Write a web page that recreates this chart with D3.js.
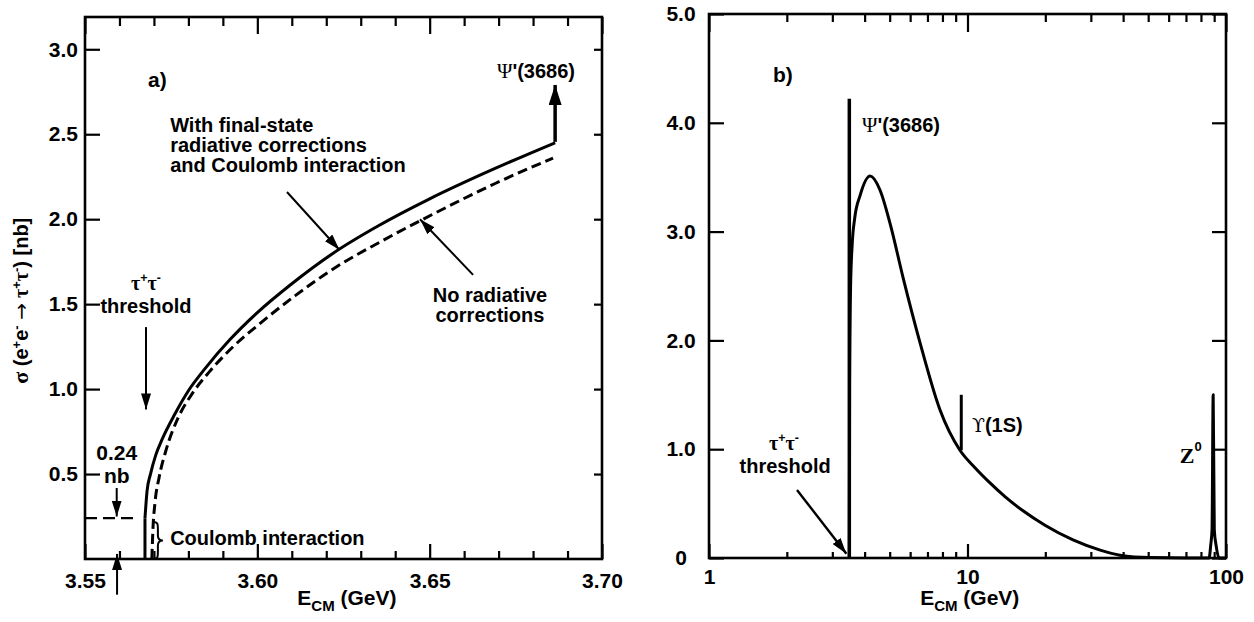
<!DOCTYPE html>
<html><head><meta charset="utf-8">
<script src="https://cdn.jsdelivr.net/npm/d3@7/dist/d3.min.js"></script>
<style>html,body{margin:0;padding:0;background:#fff;}svg{display:block}</style>
</head><body>
<svg id="chart" width="1254" height="622"></svg>
<script>
// ---------------- data: panel a) ----------------
const aXTicks = [3.55, 3.60, 3.65, 3.70];
const aXMinor = [3.56, 3.57, 3.58, 3.59, 3.61, 3.62, 3.63, 3.64, 3.66, 3.67, 3.68, 3.69];
const aYTicks = [0.5, 1.0, 1.5, 2.0, 2.5, 3.0];
// with final-state radiative corrections and Coulomb interaction (solid)
const aSolidE = [3.5674, 3.5680, 3.5690, 3.5705, 3.5725, 3.5760, 3.5800, 3.5850, 3.5920, 3.6000, 3.6100, 3.6220, 3.6350, 3.6500, 3.6680, 3.6864];
const aSolidS = [0.24, 0.40, 0.50, 0.61, 0.71, 0.85, 0.99, 1.125, 1.29, 1.45, 1.62, 1.80, 1.96, 2.12, 2.29, 2.45];
// Coulomb step at threshold
const aCoulombE = 3.5674;
const aCoulombS = 0.24;
// no radiative corrections (dashed)
const aDashE = [3.5694, 3.5697, 3.5703, 3.5715, 3.5735, 3.5770, 3.5810, 3.5860, 3.5930, 3.6010, 3.6110, 3.6230, 3.6360, 3.6510, 3.6690, 3.6858];
const aDashS = [0.00, 0.17, 0.33, 0.48, 0.64, 0.83, 0.97, 1.10, 1.25, 1.39, 1.55, 1.72, 1.87, 2.03, 2.21, 2.36];

// ---------------- data: panel b) ----------------
const bXTicks = [1, 10, 100];
const bXMinor = [2, 3, 4, 5, 6, 7, 8, 9, 20, 30, 40, 50, 60, 70, 80, 90];
const bYTicks = [0, 1, 2, 3, 4, 5];
const bCurveE = [3.49, 3.50, 3.53, 3.58, 3.66, 3.84, 4.20, 4.59, 5.01, 5.63, 6.55, 7.83, 9.35, 10.69, 12.22, 13.96, 16.4, 19.94, 25.6, 32.6, 38.9, 50.8, 80.0, 86.0, 87.3, 88.3, 89.2, 90.1, 91.5, 94.0, 100.0];
const bCurveS = [0.00, 1.60, 2.50, 2.88, 3.12, 3.33, 3.51, 3.38, 3.08, 2.58, 1.98, 1.36, 0.99, 0.83, 0.69, 0.564, 0.434, 0.301, 0.166, 0.072, 0.026, 0.004, 0.00, 0.00, 0.12, 0.26, 1.50, 0.26, 0.12, 0.00, 0.00];
const bPsiE = 3.49, bPsiTop = 4.22;
const bUpsE = 9.46, bUpsLow = 0.99, bUpsTop = 1.50;

// ---------------- drawing ----------------
const FONT = "'Liberation Sans', Arial, Helvetica, sans-serif";
const SERIF = "'Liberation Serif', 'DejaVu Serif', 'Times New Roman', serif";
const svg = d3.select('#chart');

const defs = svg.append('defs');
function marker(id, w, h) {
  defs.append('marker').attr('id', id).attr('markerUnits', 'userSpaceOnUse')
    .attr('markerWidth', w).attr('markerHeight', h).attr('refX', w).attr('refY', h / 2)
    .attr('orient', 'auto').append('path')
    .attr('d', `M0,0 L${w},${h / 2} L0,${h} Z`).attr('fill', '#000');
}
marker('ah', 16, 10);
marker('ahBig', 20, 13);

function styleAxis(g, size) {
  g.attr('font-family', null).attr('font-size', null);
  g.select('.domain').remove();
  g.selectAll('.tick line').attr('stroke', '#000').attr('stroke-width', 2.2);
  g.selectAll('.tick text').attr('fill', '#000')
    .style('font-family', FONT).style('font-size', (size || 21) + 'px').style('font-weight', 'bold');
  return g;
}
function arrow(g, x1, y1, x2, y2, w, m) {
  g.append('line').attr('x1', x1).attr('y1', y1).attr('x2', x2).attr('y2', y2)
    .attr('stroke', '#000').attr('stroke-width', w).attr('marker-end', `url(#${m || 'ah'})`);
}
function text(g, x, y, str, opts) {
  opts = opts || {};
  const t = g.append('text').attr('x', x).attr('y', y)
    .style('font-family', opts.family || FONT).style('font-size', (opts.size || 20) + 'px')
    .style('font-weight', opts.weight || 'bold').attr('fill', '#000')
    .attr('text-anchor', opts.anchor || 'start');
  if (str !== null) t.text(str);
  return t;
}
function rich(t, parts) {
  parts.forEach(p => {
    const ts = t.append('tspan').text(p.s);
    if (p.dy) ts.attr('dy', p.dy);
    if (p.size) ts.style('font-size', p.size + 'px');
    if (p.family) ts.style('font-family', p.family);
    if (p.weight) ts.style('font-weight', p.weight);
  });
  return t;
}
function tauPair(t, size) {
  const s = size * 0.62, d = size * 0.42;
  rich(t, [
    { s: 'τ', family: SERIF },
    { s: '+', dy: -d, size: s },
    { s: 'τ', dy: d, family: SERIF },
    { s: '-', dy: -d, size: s }
  ]);
}

// ================= Panel a =================
const xA = d3.scaleLinear().domain([3.55, 3.70]).range([85, 602]);
const yA = d3.scaleLinear().domain([0, 3.19]).range([559, 17]);
const gA = svg.append('g');

styleAxis(gA.append('g').attr('transform', `translate(${xA(3.55)},0)`)
  .call(d3.axisLeft(yA).tickValues(aYTicks).tickFormat(d3.format('.1f')).tickSize(-15).tickPadding(7)));
styleAxis(gA.append('g').attr('transform', `translate(${xA(3.70)},0)`)
  .call(d3.axisRight(yA).tickValues(aYTicks).tickFormat('').tickSize(-8)));
styleAxis(gA.append('g').attr('transform', `translate(0,${yA(0)})`)
  .call(d3.axisBottom(xA).tickValues(aXTicks).tickFormat(d3.format('.2f')).tickSize(-15).tickPadding(14)));
styleAxis(gA.append('g').attr('transform', `translate(0,${yA(0)})`)
  .call(d3.axisBottom(xA).tickValues(aXMinor).tickFormat('').tickSize(-8)));
styleAxis(gA.append('g').attr('transform', `translate(0,${yA(3.19)})`)
  .call(d3.axisTop(xA).tickValues(aXTicks).tickFormat('').tickSize(-17)));
styleAxis(gA.append('g').attr('transform', `translate(0,${yA(3.19)})`)
  .call(d3.axisTop(xA).tickValues(aXMinor).tickFormat('').tickSize(-9)));
gA.append('rect').attr('x', xA(3.55)).attr('y', yA(3.19))
  .attr('width', xA(3.70) - xA(3.55)).attr('height', yA(0) - yA(3.19))
  .attr('fill', 'none').attr('stroke', '#000').attr('stroke-width', 2.6);

const lineA = d3.line().x(d => xA(d[0])).y(d => yA(d[1])).curve(d3.curveMonotoneX);
gA.append('line').attr('x1', xA(aCoulombE)).attr('x2', xA(aCoulombE))
  .attr('y1', yA(0)).attr('y2', yA(aCoulombS)).attr('stroke', '#000').attr('stroke-width', 3);
gA.append('path').datum(d3.zip(aSolidE, aSolidS)).attr('d', lineA)
  .attr('fill', 'none').attr('stroke', '#000').attr('stroke-width', 3);
gA.append('path').datum(d3.zip(aDashE, aDashS)).attr('d', lineA)
  .attr('fill', 'none').attr('stroke', '#000').attr('stroke-width', 3).attr('stroke-dasharray', '10,5');

// annotations a)
text(gA, xA(3.5683), yA(2.78), 'a)', { size: 21 });
const tw = text(gA, xA(3.5747), yA(2.513), null);
['With final-state', 'radiative corrections', 'and Coulomb interaction'].forEach((s, i) => {
  tw.append('tspan').attr('x', xA(3.5747)).attr('dy', i ? 20 : 0).text(s);
});
arrow(gA, xA(3.6086), yA(2.16), xA(3.6238), yA(1.82), 2);
const tn = text(gA, xA(3.6675), yA(1.513), null, { anchor: 'middle' });
['No radiative', 'corrections'].forEach((s, i) => {
  tn.append('tspan').attr('x', xA(3.6675)).attr('dy', i ? 20 : 0).text(s);
});
arrow(gA, xA(3.6626), yA(1.672), xA(3.6472), yA(2.0), 2);
rich(text(gA, xA(3.6695), yA(2.83), null), [
  { s: 'Ψ', family: SERIF, weight: 'normal', size: 21 }, { s: "'(3686)" }
]);
arrow(gA, xA(3.6864), yA(2.455), xA(3.6864), yA(2.79), 3.5, 'ahBig');
tauPair(text(gA, xA(3.5677), yA(1.583), null, { anchor: 'middle' }), 20);
text(gA, xA(3.5677), yA(1.448), 'threshold', { anchor: 'middle' });
arrow(gA, xA(3.5677), yA(1.365), xA(3.5677), yA(0.88), 2);
text(gA, xA(3.5592), yA(0.583), '0.24', { anchor: 'middle', size: 21 });
text(gA, xA(3.5592), yA(0.45), 'nb', { anchor: 'middle', size: 21 });
arrow(gA, xA(3.5592), yA(0.418), xA(3.5592), yA(0.25), 2);
gA.append('line').attr('x1', xA(3.55)).attr('x2', xA(3.5651)).attr('y1', yA(0.24)).attr('y2', yA(0.24))
  .attr('stroke', '#000').attr('stroke-width', 2.2).attr('stroke-dasharray', '12,6');
arrow(gA, xA(3.5593), yA(-0.21), xA(3.5593), yA(0.03), 2);
{
  const bx0 = xA(3.5697), bx1 = xA(3.5726), by0 = yA(0.218), by1 = yA(0), bm = (by0 + by1) / 2;
  const bmx = (bx0 + bx1) / 2;
  const p = `M${bx0},${by0} C${bmx},${by0} ${bmx},${by0 + 2} ${bmx},${by0 + 7} L${bmx},${bm - 5} C${bmx},${bm - 1} ${bmx + 2},${bm} ${bx1},${bm}` +
    ` C${bmx + 2},${bm} ${bmx},${bm + 1} ${bmx},${bm + 5} L${bmx},${by1 - 7} C${bmx},${by1 - 2} ${bmx},${by1} ${bx0},${by1}`;
  gA.append('path').attr('d', p).attr('fill', 'none').attr('stroke', '#000').attr('stroke-width', 2);
}
text(gA, xA(3.5747), yA(0.082), 'Coulomb interaction');
rich(text(gA, xA(3.626), 605, null, { anchor: 'middle', size: 21 }), [
  { s: 'E' }, { s: 'CM', dy: 6, size: 15 }, { s: ' (GeV)', dy: -6 }
]);
{
  const t = gA.append('text').attr('transform', `translate(28,${yA(1.52)}) rotate(-90)`)
    .attr('text-anchor', 'middle').style('font-family', FONT).style('font-size', '20px')
    .style('font-weight', 'bold').attr('fill', '#000');
  rich(t, [
    { s: 'σ', family: SERIF, size: 22 },
    { s: ' (e' },
    { s: '+', dy: -7, size: 13 },
    { s: 'e', dy: 7 },
    { s: '-', dy: -7, size: 13 },
    { s: ' ', dy: 7 },
    { s: '→', family: "'DejaVu Sans', sans-serif", weight: 'normal', size: 20 },
    { s: ' τ', family: SERIF },
    { s: '+', dy: -7, size: 13 },
    { s: 'τ', dy: 7, family: SERIF },
    { s: '-', dy: -7, size: 13 },
    { s: ')  [nb]', dy: 7 }
  ]);
}

// ================= Panel b =================
const xB = d3.scaleLog().domain([1, 100]).range([709, 1226]);
const yB = d3.scaleLinear().domain([0, 5]).range([558, 14]);
const gB = svg.append('g');

const ya = styleAxis(gB.append('g').attr('transform', `translate(${xB(1)},0)`)
  .call(d3.axisLeft(yB).tickValues(bYTicks).tickFormat(d => d === 0 ? '0' : d3.format('.1f')(d)).tickSize(-15).tickPadding(12)));
ya.selectAll('.tick text').attr('text-anchor', 'middle').attr('x', -28);
styleAxis(gB.append('g').attr('transform', `translate(${xB(100)},0)`)
  .call(d3.axisRight(yB).tickValues(bYTicks).tickFormat('').tickSize(-14)));
styleAxis(gB.append('g').attr('transform', `translate(0,${yB(0)})`)
  .call(d3.axisBottom(xB).tickValues(bXTicks).tickFormat(d3.format('d')).tickSize(-14).tickPadding(11)));
styleAxis(gB.append('g').attr('transform', `translate(0,${yB(0)})`)
  .call(d3.axisBottom(xB).tickValues(bXMinor).tickFormat('').tickSize(-6)));
styleAxis(gB.append('g').attr('transform', `translate(0,${yB(5)})`)
  .call(d3.axisTop(xB).tickValues(bXTicks).tickFormat('').tickSize(-18)));
styleAxis(gB.append('g').attr('transform', `translate(0,${yB(5)})`)
  .call(d3.axisTop(xB).tickValues(bXMinor).tickFormat('').tickSize(-8)));
gB.append('rect').attr('x', xB(1)).attr('y', yB(5))
  .attr('width', xB(100) - xB(1)).attr('height', yB(0) - yB(5))
  .attr('fill', 'none').attr('stroke', '#000').attr('stroke-width', 2.6);

const lineB = d3.line().x(d => xB(d[0])).y(d => yB(d[1])).curve(d3.curveMonotoneX);
gB.append('path').datum(d3.zip(bCurveE, bCurveS)).attr('d', lineB)
  .attr('fill', 'none').attr('stroke', '#000').attr('stroke-width', 3).attr('stroke-linejoin', 'round');
gB.append('line').attr('x1', xB(bPsiE)).attr('x2', xB(bPsiE)).attr('y1', yB(0)).attr('y2', yB(bPsiTop))
  .attr('stroke', '#000').attr('stroke-width', 3.5);
gB.append('line').attr('x1', xB(bUpsE)).attr('x2', xB(bUpsE)).attr('y1', yB(bUpsLow)).attr('y2', yB(bUpsTop))
  .attr('stroke', '#000').attr('stroke-width', 3);

// annotations b)
text(gB, xB(1.768), yB(4.375), 'b)', { size: 21 });
rich(text(gB, xB(3.906), yB(3.915), null), [
  { s: 'Ψ', family: SERIF, weight: 'normal', size: 21 }, { s: "'(3686)" }
]);
rich(text(gB, xB(10.4), yB(1.158), null), [
  { s: 'ϒ', family: "'DejaVu Serif', serif", weight: 'normal', size: 19 }, { s: '(1S)' }
]);
rich(text(gB, xB(66.3), yB(0.873), null, { family: SERIF, size: 22 }), [
  { s: 'Z' }, { s: '0', dy: -12, size: 13, family: FONT }
]);
tauPair(text(gB, xB(1.95), yB(0.993), null, { anchor: 'middle' }), 20);
text(gB, xB(1.97), yB(0.78), 'threshold', { anchor: 'middle' });
arrow(gB, xB(2.19), yB(0.625), xB(3.40), yB(0.04), 2.4);
rich(text(gB, xB(10.2), 605, null, { anchor: 'middle', size: 21 }), [
  { s: 'E' }, { s: 'CM', dy: 6, size: 15 }, { s: ' (GeV)', dy: -6 }
]);
</script>
</body></html>
